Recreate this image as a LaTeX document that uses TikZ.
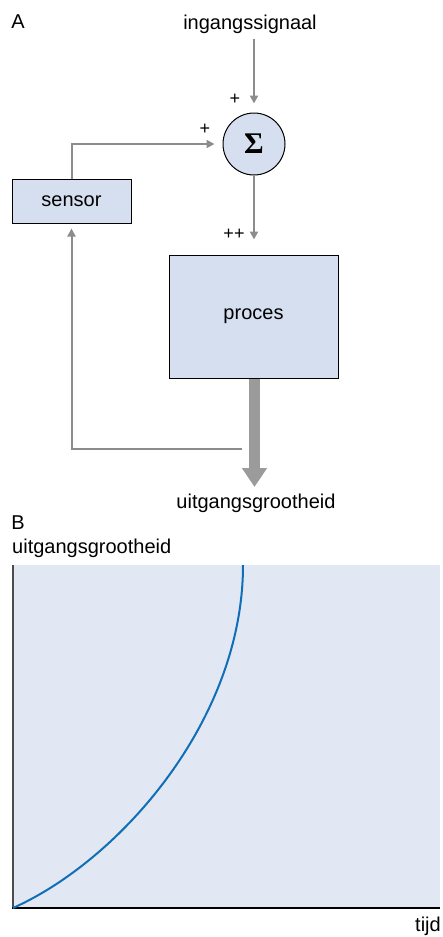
\documentclass[tikz,border=0pt]{standalone}
\usepackage{fontspec}
\setmainfont{Liberation Sans}
\newfontfamily\sigmafont{Liberation Serif}
\usetikzlibrary{arrows.meta,calc}
\definecolor{boxfill}{RGB}{214,223,240}
\definecolor{plotfill}{RGB}{225,231,243}
\definecolor{arrowgray}{RGB}{140,140,140}
\definecolor{thickgray}{RGB}{155,155,155}
\definecolor{curveblue}{RGB}{16,110,182}
\tikzset{
  lbl/.style={font=\fontsize{20}{24}\selectfont, inner sep=0pt},
  sgn/.style={font=\fontsize{18}{20}\selectfont, inner sep=0pt},
  blockbox/.style={draw=black, line width=1pt, fill=boxfill, inner sep=0pt},
  conn/.style={draw=arrowgray, line width=2pt, -{Triangle[length=8pt,width=8pt]}},
}
\begin{document}
\begin{tikzpicture}[x=1pt,y=-1pt]
\useasboundingbox (0,0) rectangle (442,937);
% Part A
\node[lbl] (labA) at (18,22) {A};
\node[lbl] (in) at (250,24) {ingangssignaal};
\node[circle, draw=black, line width=1pt, fill=boxfill, minimum size=62pt, inner sep=0pt] (sigma) at (254,144) {\sigmafont\bfseries\fontsize{30}{32}\selectfont Σ};
\node[blockbox, minimum width=119pt, minimum height=44pt] (sensor) at (71.5,201) {};
\node[lbl] at (sensor.center) {sensor};
\node[blockbox, minimum width=169pt, minimum height=123pt] (proc) at (253.5,316.5) {};
\node[lbl] at (proc.center) {proces};
\node[lbl] (out) at (256,503) {uitgangsgrootheid};
\node[sgn] (p1) at (235,99) {+};
\node[sgn] (p2) at (205,129) {+};
\node[sgn] (p3) at (234,234) {++};
\coordinate (tipout) at (254.5,487);
\coordinate (fbstart) at (242,449);
% connectors
\draw[conn, shorten >=9pt] (sigma.north |- 0,39) -- (sigma.north);
\draw[conn, shorten >=15pt] (sigma.south) -- (sigma.south |- proc.north);
\draw[conn, shorten >=8pt] (sensor.north) |- (sigma.west);
\draw[draw=thickgray, line width=11pt, -{Triangle[length=19pt,width=24pt]}] (proc.south -| tipout) -- (tipout);
\draw[conn, shorten >=5pt] (fbstart) -| (sensor.south);
% Part B
\node[lbl] (labB) at (18,523) {B};
\node[lbl, anchor=west] (ylab) at (12,548) {uitgangsgrootheid};
\node[lbl, anchor=east] (xlab) at (441,926) {tijd};
\fill[plotfill] (13,565) rectangle (440,908);
\draw[draw=black!70, line width=1.5pt] (13,565) -- (13,908);
\draw[draw=black, line width=1.5pt] (12.25,908) -- (440,908);
\draw[draw=curveblue, line width=2pt] (13,908) .. controls (120,860) and (243,720) .. (243,565);
\end{tikzpicture}
\end{document}
